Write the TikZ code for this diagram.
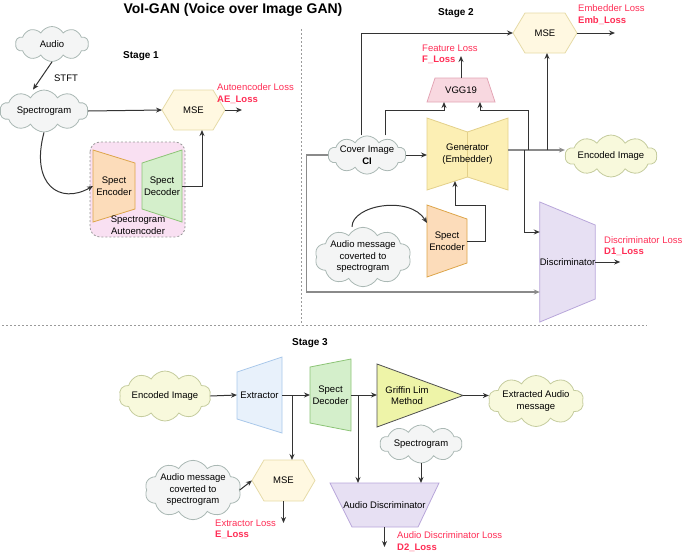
\documentclass[tikz,border=0pt]{standalone}
\usepackage{fontspec}
\setmainfont{Liberation Sans}
\usetikzlibrary{shapes.symbols,shapes.geometric,arrows.meta,calc,backgrounds}
\definecolor{cloudfill}{HTML}{F4F5F5}
\definecolor{clouddraw}{HTML}{AAB8B4}
\definecolor{cloudyfill}{HTML}{F8F9DC}
\definecolor{cloudydraw}{HTML}{C5CC9E}
\definecolor{hexfill}{HTML}{FFF8E1}
\definecolor{hexdraw}{HTML}{E6DBA8}
\definecolor{encfill}{HTML}{FCDCBA}
\definecolor{encdraw}{HTML}{DDA54A}
\definecolor{decfill}{HTML}{D4EFCB}
\definecolor{decdraw}{HTML}{8CC476}
\definecolor{grpfill}{HTML}{F9E0F2}
\definecolor{grpdraw}{HTML}{9A9A9A}
\definecolor{genfill}{HTML}{FCEFB4}
\definecolor{gendraw}{HTML}{E3D08A}
\definecolor{vggfill}{HTML}{F8D8E0}
\definecolor{vggdraw}{HTML}{E3A5B5}
\definecolor{discfill}{HTML}{E7E0F3}
\definecolor{discdraw}{HTML}{B8A6DA}
\definecolor{extfill}{HTML}{E8F1FB}
\definecolor{extdraw}{HTML}{A9C8EA}
\definecolor{griffill}{HTML}{EEF4A8}
\definecolor{grifdraw}{HTML}{505050}
\definecolor{lossred}{HTML}{FF2D55}
\definecolor{linedark}{HTML}{333333}
\definecolor{linegray}{HTML}{8A8A8A}
\begin{document}
\begin{tikzpicture}[x=1pt,y=-1pt,font=\fontsize{9.5}{11.5}\selectfont,
  cloudA/.style={cloud, cloud puffs=10, cloud puff arc=120, cloud ignores aspect, draw=clouddraw, fill=cloudfill, inner sep=0pt, align=center, line width=0.8pt},
  cloudY/.style={cloudA, draw=cloudydraw, fill=cloudyfill},
  box/.style={inner sep=0pt, outer sep=0pt, align=center, draw=none},
  loss/.style={text=lossred, align=left, inner sep=0pt, anchor=west},
  stagelbl/.style={font=\fontsize{10}{12}\selectfont\bfseries},
  conn/.style={draw=linedark, line width=1pt, -{Stealth[length=6pt,width=5pt]}},
  conngray/.style={conn, draw=linegray, line width=1.1pt},
  shp/.style={line width=0.8pt},
  sep/.style={draw=grpdraw, line width=0.8pt, dash pattern=on 2pt off 2pt}]
\useasboundingbox (0,0) rectangle (685,552);

% ---------- title and separators
\node[font=\fontsize{14}{16}\selectfont\bfseries] (title) at (233,10) {VoI-GAN (Voice over Image GAN)};
\draw[sep] (301,29) -- (301,325);
\draw[sep] (2,325) -- (647,325);

% ---------- Stage 1 nodes
\node[stagelbl] (st1) at (141,56) {Stage 1};
\node[cloudA, minimum width=73pt, minimum height=35pt] (audio1) at (52,44) {Audio};
\node[cloudA, minimum width=88pt, minimum height=42pt] (spec1) at (44,111) {Spectrogram};
\node (stft) at (66,78) {STFT};
\node[box, minimum width=63pt, minimum height=40pt] (mse1) at (193.5,110) {MSE};
\node[box, minimum width=42pt, minimum height=72pt] (enc1) at (114,186) {Spect\\Encoder};
\node[box, minimum width=40pt, minimum height=72pt] (dec1) at (162,186) {Spect\\Decoder};
\node[box] (grp1) at (138,225) {Spectrogram\\Autoencoder};
\node[loss] (aeloss) at (217,93.5) {Autoencoder Loss\\\textbf{AE\_Loss}};
\coordinate (aeend) at (242,110);

% ---------- Stage 2 nodes
\node[stagelbl] (st2) at (456,13) {Stage 2};
\node[box, minimum width=64pt, minimum height=40pt] (mse2) at (545,33) {MSE};
\node[loss] (embloss) at (578,14.5) {Embedder Loss\\\textbf{Emb\_Loss}};
\node[box, minimum width=68pt, minimum height=24pt] (vgg) at (461,90) {VGG19};
\node[loss] (floss) at (422,54.5) {Feature Loss\\\textbf{F\_Loss}};
\node[box, minimum width=81pt, minimum height=72pt] (gen) at (467.5,154) {Generator\\(Embedder)};
\node[cloudA, minimum width=71pt, minimum height=34pt] (cover) at (367,155) {Cover Image\\\textbf{CI}};
\node[cloudY, minimum width=90pt, minimum height=42pt] (enc2) at (611,156) {Encoded Image};
\node[box, minimum width=40pt, minimum height=72pt] (enc2s) at (447,241) {Spect\\Encoder};
\node[cloudA, minimum width=94pt, minimum height=52pt] (msg2) at (363,257) {Audio message\\coverted to\\spectrogram};
\node[box, minimum width=55pt, minimum height=120pt] (disc) at (567.5,262) {Discriminator};
\node[loss] (d1loss) at (604,246) {Discriminator Loss\\\textbf{D1\_Loss}};

% ---------- Stage 3 nodes
\node[stagelbl] (st3) at (310,343) {Stage 3};
\node[cloudY, minimum width=90pt, minimum height=50pt] (encimg3) at (165,396) {Encoded Image};
\node[box, minimum width=45pt, minimum height=76pt] (ext) at (259.5,395) {Extractor};
\node[box, minimum width=41pt, minimum height=72pt] (dec3) at (330.5,395) {Spect\\Decoder};
\node[box, minimum width=86pt, minimum height=63pt] (grif) at (420,395.5) {};
\node[align=center] (griftxt) at (407,395.5) {Griffin Lim\\Method};
\node[cloudY, minimum width=92pt, minimum height=51pt] (extr) at (536,401) {Extracted Audio\\message};
\node[cloudA, minimum width=82pt, minimum height=38pt] (spec3) at (421,444) {Spectrogram};
\node[box, minimum width=109pt, minimum height=44pt] (adisc) at (384.5,505) {Audio Discriminator};
\node[loss] (d2loss) at (397,541.5) {Audio Discriminator Loss\\\textbf{D2\_Loss}};
\node[box, minimum width=63pt, minimum height=41pt] (mse3) at (283.5,480.5) {MSE};
\node[cloudA, minimum width=94pt, minimum height=55pt] (msg3) at (193,490) {Audio message\\coverted to\\spectrogram};
\node[loss] (eloss) at (215,529.5) {Extractor Loss\\\textbf{E\_Loss}};

% ---------- shapes (background)
\begin{scope}[on background layer]
\draw[sep, fill=grpfill, rounded corners=10pt] (90,142) rectangle (185,237);
\foreach \h in {mse1,mse2,mse3}{
  \draw[shp, fill=hexfill, draw=hexdraw] (\h.west) -- ([xshift=12pt]\h.north west) -- ([xshift=-12pt]\h.north east) -- (\h.east) -- ([xshift=-12pt]\h.south east) -- ([xshift=12pt]\h.south west) -- cycle;}
\draw[shp, fill=encfill, draw=encdraw] (enc1.north west) -- ([yshift=-13pt]enc1.north east) -- ([yshift=13pt]enc1.south east) -- (enc1.south west) -- cycle;
\draw[shp, fill=decfill, draw=decdraw] ([yshift=-13pt]dec1.north west) -- (dec1.north east) -- (dec1.south east) -- ([yshift=13pt]dec1.south west) -- cycle;
\draw[shp, fill=vggfill, draw=vggdraw] ([xshift=8pt]vgg.north west) -- ([xshift=-8pt]vgg.north east) -- (vgg.south east) -- (vgg.south west) -- cycle;
\draw[shp, fill=genfill, draw=gendraw] (gen.north west) -- ([yshift=-14pt]gen.north) -- (gen.north east) -- (gen.south east) -- ([yshift=13pt]gen.south) -- (gen.south west) -- cycle;
\draw[shp, draw=gendraw] ([yshift=-14pt]gen.north) -- ([yshift=13pt]gen.south);
\draw[shp, fill=encfill, draw=encdraw] (enc2s.north west) -- ([yshift=-14pt]enc2s.north east) -- ([yshift=14pt]enc2s.south east) -- (enc2s.south west) -- cycle;
\draw[shp, fill=discfill, draw=discdraw] (disc.north west) -- ([yshift=-23pt]disc.north east) -- ([yshift=23pt]disc.south east) -- (disc.south west) -- cycle;
\draw[shp, fill=extfill, draw=extdraw] ([yshift=-15pt]ext.north west) -- (ext.north east) -- (ext.south east) -- ([yshift=14pt]ext.south west) -- cycle;
\draw[shp, fill=decfill, draw=decdraw] ([yshift=-8pt]dec3.north west) -- (dec3.north east) -- (dec3.south east) -- ([yshift=8pt]dec3.south west) -- cycle;
\draw[shp, fill=griffill, draw=grifdraw] (grif.north west) -- (grif.east) -- (grif.south west) -- cycle;
\draw[shp, fill=discfill, draw=discdraw] (adisc.north west) -- (adisc.north east) -- ([xshift=-21pt]adisc.south east) -- ([xshift=22pt]adisc.south west) -- cycle;
\end{scope}

% ---------- Stage 1 connectors
\draw[conn] (audio1.south) -- ([xshift=-11pt]spec1.north);
\draw[conn] (spec1.east) -- (mse1.west);
\draw[conn] (mse1.east) -- (aeend);
\draw[conn] (spec1.south) .. controls (30,185) and (60,205) .. (enc1.west);
\draw[conn] (dec1.east) -| ([xshift=8.5pt]mse1.south);

% ---------- Stage 2 connectors
\coordinate (gout) at ([yshift=4pt]gen.east);
\coordinate (ja) at ($(gout)+(16,0)$);
\coordinate (jb) at ($(gout)+(20,0)$);
\coordinate (jc) at ($(gout)+(39,0)$);
\draw[conn] ([xshift=-6pt]cover.north) |- (mse2.west);
\draw[conn] ([xshift=18pt]cover.north) |- ([xshift=-17pt,yshift=-8pt]vgg.south) -- ([xshift=-17pt]vgg.south);
\draw[conn] (cover.east) -- (cover.east -| gen.west);
\draw[conngray] (cover.west) -- ++(-22,0) |- ([yshift=-30pt]disc.west);
\draw[conngray] (gout) -- (gout -| enc2.west);
\draw[conn] (jb) |- ([xshift=19pt,yshift=-8pt]vgg.south) -- ([xshift=19pt]vgg.south);
\draw[conn] (jc) -- (jc |- mse2.south);
\draw[conn] (ja) |- ([yshift=30pt]disc.west);
\draw[conn] (vgg.north) -- ([yshift=22pt]vgg.north);
\draw[conn] (mse2.east) -- ([xshift=38pt]mse2.east);
\draw[conn] (disc.east) -- ([xshift=25pt]disc.east);
\draw[conn] ([xshift=-11pt]msg2.north) .. controls (352,205) and (410,195) .. ([yshift=18pt]enc2s.west);
\draw[conn] (enc2s.east) -- ++(18,0) |- ([xshift=-12.5pt,yshift=-15pt]gen.south) -- ([xshift=-12.5pt,yshift=9pt]gen.south);

% ---------- Stage 3 connectors
\draw[conn] (encimg3.east) -- (ext.west);
\draw[conn] (ext.east) -- (dec3.west);
\draw[conn] ([xshift=10pt]ext.east) -- ([xshift=8.5pt]mse3.north);
\draw[conn] (dec3.east) -- (dec3.east -| grif.west);
\draw[conn] ([xshift=7pt]dec3.east) -- ([xshift=7pt]dec3.east |- adisc.north);
\draw[conn] (grif.east) -- (grif.east -| extr.west);
\draw[conn] (spec3.south) -- (spec3.south |- adisc.north);
\draw[conn] (msg3.east) -- (mse3.west);
\draw[conn] (mse3.south) -- ([yshift=-22pt]mse3.south);
\draw[conn] (adisc.south) -- ([yshift=-20pt]adisc.south);
\end{tikzpicture}
\end{document}
